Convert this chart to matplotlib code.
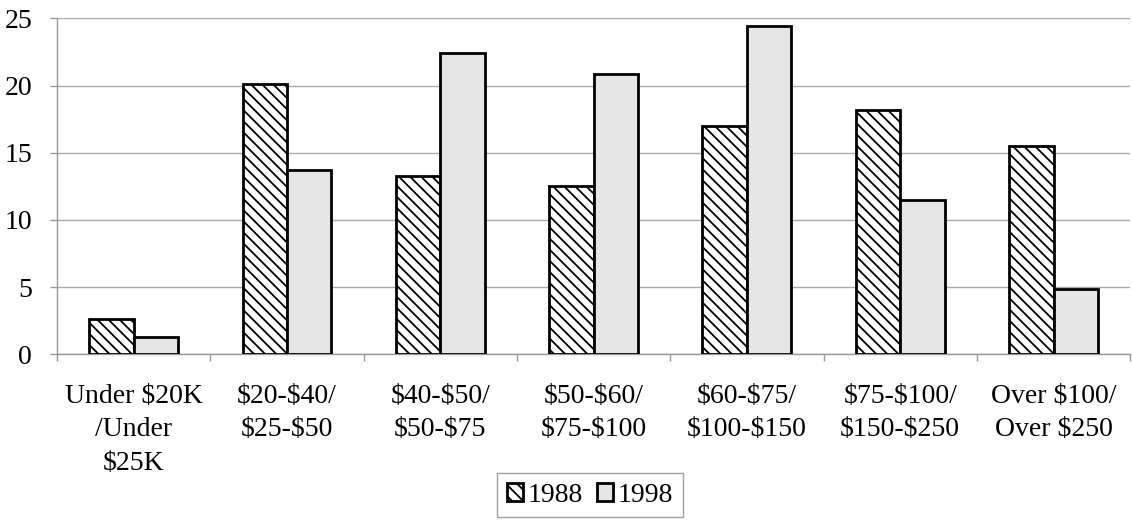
import matplotlib.pyplot as plt
import numpy as np

# Household income brackets (1988 bracket / 1998 bracket), share in percent
categories = [
    "Under $20K\n/Under\n$25K",
    "$20-$40/\n$25-$50",
    "$40-$50/\n$50-$75",
    "$50-$60/\n$75-$100",
    "$60-$75/\n$100-$150",
    "$75-$100/\n$150-$250",
    "Over $100/\nOver $250",
]
share_1988 = [2.6, 20.1, 13.3, 12.5, 17.0, 18.2, 15.5]
share_1998 = [1.3, 13.7, 22.4, 20.9, 24.4, 11.5, 4.9]
series_labels = ["1988", "1998"]
y_ticks = [0, 5, 10, 15, 20, 25]

plt.rcParams["font.family"] = ["Liberation Serif", "DejaVu Serif"]
plt.rcParams["text.parse_math"] = False
plt.rcParams["hatch.linewidth"] = 1.3

fig = plt.figure(figsize=(11.32, 5.2), dpi=100)
ax = fig.add_axes([0.0504, 0.3185, 0.948, 0.6461])

x = np.arange(len(categories))
width = 0.29
ax.bar(x - width / 2, share_1988, width, facecolor="white", edgecolor="black",
       linewidth=2.0, hatch="\\\\\\", label=series_labels[0], zorder=3)
ax.bar(x + width / 2, share_1998, width, facecolor="#e6e6e6", edgecolor="black",
       linewidth=2.0, label=series_labels[1], zorder=3)

ax.set_xlim(-0.5, len(categories) - 0.5)
ax.set_ylim(0, 25)
ax.set_yticks(y_ticks)
ax.tick_params(axis="y", length=5, color="#999999", width=1, pad=13,
               labelsize=20)

# labels at category centres, tick marks on the boundaries
ax.set_xticks(x)
ax.set_xticklabels(categories, fontsize=20, linespacing=1.45)
ax.tick_params(axis="x", which="major", length=0, pad=21)
ax.set_xticks(np.arange(len(categories) + 1) - 0.5, minor=True)
ax.tick_params(axis="x", which="minor", length=5, color="#999999", width=1)

ax.grid(axis="y", color="#aaaaaa", linewidth=1, zorder=0)
for side in ["top", "right"]:
    ax.spines[side].set_visible(False)
for side in ["left", "bottom"]:
    ax.spines[side].set_color("#999999")
    ax.spines[side].set_linewidth(1)

leg = fig.legend(loc="upper center", bbox_to_anchor=(0.521, 1 - 473 / 520),
                 ncol=2, fontsize=20, frameon=True, fancybox=False,
                 handlelength=0.6, handleheight=0.6, handletextpad=0.15,
                 columnspacing=0.5, borderpad=0.35, borderaxespad=0)
leg.get_frame().set_edgecolor("#888888")
leg.get_frame().set_linewidth(1)

fig.savefig("out.png", dpi=100)
